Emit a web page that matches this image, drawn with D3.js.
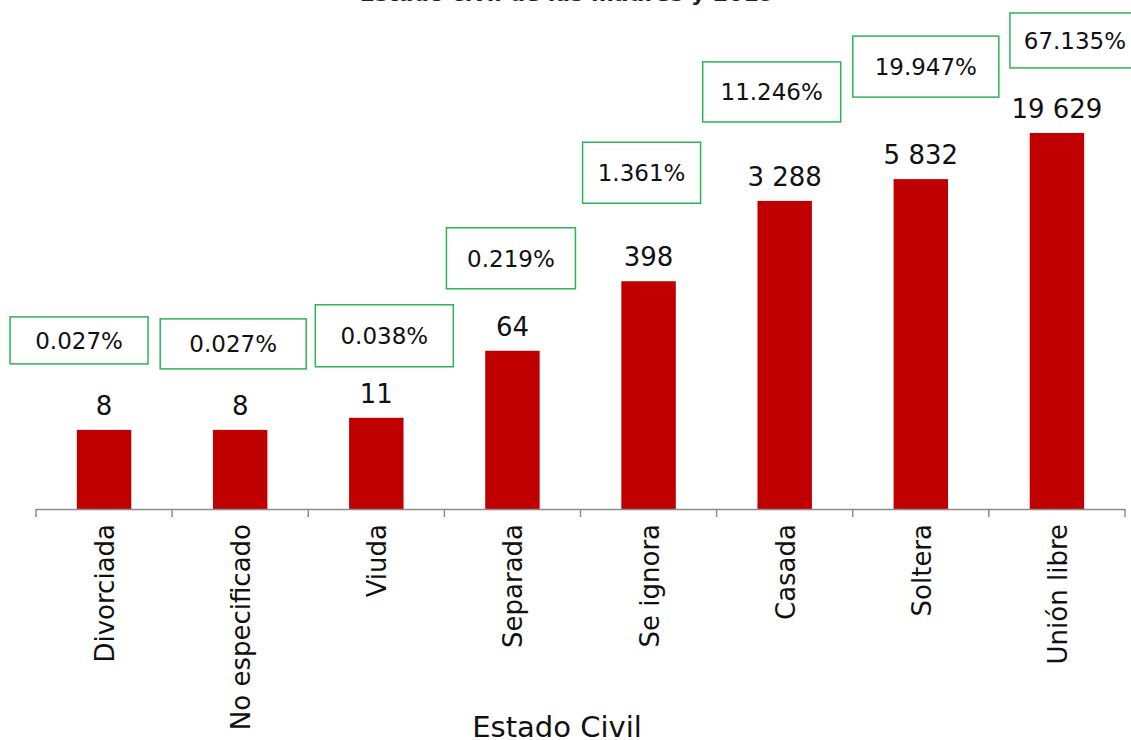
<!DOCTYPE html>
<html>
<head>
<meta charset="utf-8">
<script src="https://cdn.jsdelivr.net/npm/d3@7"></script>
<style>
  body { margin: 0; background: #fff; }
  svg { display: block; font-family: "DejaVu Sans", sans-serif; }
</style>
</head>
<body>
<svg width="1131" height="740"></svg>
<script>
// datos
var categorias = ["Divorciada", "No especificado", "Viuda", "Separada", "Se ignora", "Casada", "Soltera", "Unión libre"];
var valores = [8, 8, 11, 64, 398, 3288, 5832, 19629];
var porcentajes = ["0.027%", "0.027%", "0.038%", "0.219%", "1.361%", "11.246%", "19.947%", "67.135%"];

// posicion de las cajas de porcentaje (desplazadas a mano como en el original)
var cajaDx = [-25, -7, 8, -1.5, -7, -13, 5, 18];
var cajaDy = [-89.5, -86, -82, -92.5, -108.5, -109, -112.5, -92.5];
var cajaW = [138, 146, 138, 129, 118, 138, 146, 130];
var cajaH = [47, 50, 62, 61, 61, 60, 61, 55];

var svg = d3.select("svg");
var baseY = 509;

var x = d3.scaleBand()
    .domain(categorias)
    .range([36, 1125])
    .paddingInner(0.6)
    .paddingOuter(0.3);

var y = d3.scaleLog()
    .domain([1, 100000])
    .range([baseY, baseY - 5 * 87.6]);

// titulo (cortado arriba)
svg.append("text")
    .attr("x", 567)
    .attr("y", 1)
    .attr("text-anchor", "middle")
    .attr("font-size", "22px")
    .attr("font-weight", "bold")
    .attr("fill", "#222")
    .text("Estado civil de las madres y 2019");

// barras
svg.selectAll(".bar")
    .data(valores)
    .enter()
    .append("rect")
    .attr("class", "bar")
    .attr("x", function(d, i) { return x(categorias[i]); })
    .attr("width", x.bandwidth())
    .attr("y", function(d) { return y(d); })
    .attr("height", function(d) { return baseY - y(d); })
    .attr("fill", "#c00000");

// eje x
var bandas = d3.scaleLinear().domain([0, categorias.length]).range([36, 1125]);
var eje = svg.append("g").attr("class", "eje");
eje.append("line")
    .attr("x1", 36).attr("x2", 1125)
    .attr("y1", baseY + 0.5).attr("y2", baseY + 0.5)
    .attr("stroke", "#8c8c8c").attr("stroke-width", 1.5);
eje.selectAll(".tick")
    .data(d3.range(categorias.length + 1))
    .enter()
    .append("line")
    .attr("x1", function(d) { return bandas(d); })
    .attr("x2", function(d) { return bandas(d); })
    .attr("y1", baseY).attr("y2", baseY + 8)
    .attr("stroke", "#8c8c8c").attr("stroke-width", 1.5);

eje.selectAll(".cat")
    .data(categorias)
    .enter()
    .append("text")
    .attr("class", "cat")
    .attr("transform", function(d) {
        return "translate(" + (x(d) + x.bandwidth() / 2 + 10) + "," + (baseY + 15) + ") rotate(-90)";
    })
    .attr("text-anchor", "end")
    .attr("font-size", "26px")
    .attr("fill", "#111")
    .text(function(d) { return d; });

svg.append("text")
    .attr("x", 557)
    .attr("y", 737)
    .attr("text-anchor", "middle")
    .attr("font-size", "29px")
    .attr("fill", "#111")
    .text("Estado Civil");

// valores sobre las barras
svg.selectAll(".valor")
    .data(valores)
    .enter()
    .append("text")
    .attr("class", "valor")
    .attr("x", function(d, i) { return x(categorias[i]) + x.bandwidth() / 2; })
    .attr("y", function(d) { return y(d) - 15; })
    .attr("text-anchor", "middle")
    .attr("font-size", "26px")
    .attr("fill", "#111")
    .text(function(d) { return d3.format(",")(d).replace(/,/g, " "); });

// cajas de porcentaje
var cajas = svg.selectAll(".caja")
    .data(porcentajes)
    .enter()
    .append("g")
    .attr("class", "caja")
    .attr("transform", function(d, i) {
        var cx = x(categorias[i]) + x.bandwidth() / 2 + cajaDx[i];
        var cy = y(valores[i]) + cajaDy[i];
        return "translate(" + cx + "," + cy + ")";
    });

cajas.append("rect")
    .attr("x", function(d, i) { return -cajaW[i] / 2; })
    .attr("y", function(d, i) { return -cajaH[i] / 2; })
    .attr("width", function(d, i) { return cajaW[i]; })
    .attr("height", function(d, i) { return cajaH[i]; })
    .attr("fill", "#fff")
    .attr("stroke", "#2db357")
    .attr("stroke-width", 1.5);

cajas.append("text")
    .attr("text-anchor", "middle")
    .attr("dy", "0.36em")
    .attr("font-size", "23px")
    .attr("fill", "#111")
    .text(function(d) { return d; });
</script>
</body>
</html>
